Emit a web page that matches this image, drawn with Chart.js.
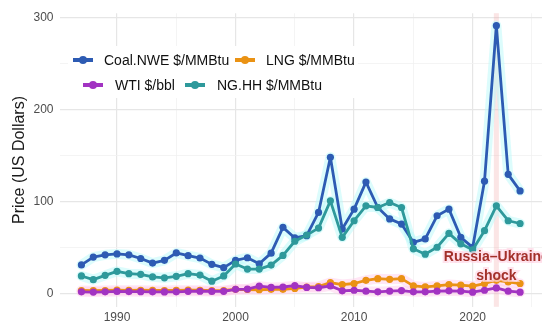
<!DOCTYPE html>
<html>
<head>
<meta charset="utf-8">
<script src="https://cdn.jsdelivr.net/npm/chart.js@4.4.0/dist/chart.umd.min.js"></script>
<style>
  html, body { margin: 0; padding: 0; background: #fff; }
</style>
</head>
<body>
<canvas id="chart" width="550" height="331"></canvas>
<script>
const years = [1987, 1988, 1989, 1990, 1991, 1992, 1993, 1994, 1995, 1996,
  1997, 1998, 1999, 2000, 2001, 2002, 2003, 2004, 2005, 2006,
  2007, 2008, 2009, 2010, 2011, 2012, 2013, 2014, 2015, 2016,
  2017, 2018, 2019, 2020, 2021, 2022, 2023, 2024];

const coal = [31, 39.5, 42, 43, 42, 38, 33, 36, 44, 41,
  38.5, 31.6, 28, 36, 38.8, 32.3, 43.8, 71.8, 60.3, 62.8,
  88, 148, 70, 91.6, 121, 93.4, 81, 75.4, 55.6, 59.3,
  84.4, 91.6, 61, 50, 122, 291, 129.4, 111.4];

const lng = [3.2, 3.0, 3.2, 3.6, 3.4, 3.5, 3.3, 3.2, 3.4, 3.6,
  3.5, 3.0, 3.2, 4.5, 4.3, 4.0, 4.5, 4.5, 5.5, 7.0,
  7.5, 11.8, 9.7, 10.8, 14.3, 16.1, 15.4, 16.1, 8.2, 7.1,
  8.2, 9.7, 9.0, 7.9, 10.8, 14.3, 12.5, 10.8];

const wti = [1.8, 1.5, 1.8, 2.2, 2.0, 1.9, 1.8, 1.7, 1.8, 2.3,
  2.4, 2.2, 2.3, 4.5, 4.8, 8.0, 6.5, 7.0, 8.5, 6.5,
  6.2, 8.2, 2.9, 3.5, 2.5, 1.8, 2.5, 3.1, 1.8, 1.8,
  2.5, 2.9, 2.5, 1.4, 3.5, 6.0, 2.5, 1.4];

const nghh = [19, 15, 19.7, 24, 21.5, 20.8, 18, 17, 18.6, 21.5,
  20, 13.3, 19, 32, 26.5, 26.5, 30.8, 41.3, 56.7, 63.5,
  71, 100.6, 61, 79, 95.2, 93.4, 98.8, 93.4, 48.5, 42.7,
  50.2, 65.3, 53.9, 47.4, 68.2, 95.2, 79, 76];

const seriesNames = ['Coal.NWE $/MMBtu', 'LNG $/MMBtu', 'WTI $/bbl', 'NG.HH $/MMBtu'];
const seriesColors = ['#2d5bb3', '#ea9214', '#a233c2', '#2e999b'];
const haloColors = ['rgba(185,250,250,0.5)', 'rgba(255,205,235,0.5)',
  'rgba(255,205,235,0.5)', 'rgba(185,250,250,0.5)'];

const xGrid = [1990, 1995, 2000, 2005, 2010, 2015, 2020, 2025];
const xLabels = [1990, 2000, 2010, 2020];
const yGrid = [0, 50, 100, 150, 200, 250, 300];
const yLabels = [0, 100, 200, 300];

const shockYear = 2022;
const shockLines = ['Russia–Ukraine', 'shock'];
const shockLabelY = [39, 18.6];

const seriesData = [coal, lng, wti, nghh];

function points(values) {
  return years.map((yr, i) => ({ x: yr, y: values[i] }));
}

const datasets = [];
// soft halo under each line
seriesData.forEach((vals, i) => {
  datasets.push({
    data: points(vals),
    borderColor: haloColors[i],
    borderWidth: 10,
    borderJoinStyle: 'round',
    borderCapStyle: 'round',
    pointRadius: 0,
    fill: false,
    order: 20 + i
  });
});
seriesData.forEach((vals, i) => {
  datasets.push({
    label: seriesNames[i],
    data: points(vals),
    borderColor: seriesColors[i],
    backgroundColor: seriesColors[i],
    borderWidth: 2.8,
    borderJoinStyle: 'round',
    pointRadius: 3.6,
    pointBorderWidth: 0,
    fill: false,
    order: 10 - i
  });
});

const overlays = {
  id: 'overlays',
  beforeDatasetsDraw(chart) {
    const { ctx, chartArea, scales } = chart;
    const x = scales.x.getPixelForValue(shockYear);
    ctx.save();
    ctx.fillStyle = 'rgba(240,160,160,0.28)';
    ctx.fillRect(x - 2.5, chartArea.top, 5, chartArea.bottom - chartArea.top);
    ctx.restore();
  },
  afterDatasetsDraw(chart) {
    const { ctx, chartArea, scales } = chart;

    // annotation, clipped to the panel like the original
    ctx.save();
    ctx.beginPath();
    ctx.rect(chartArea.left, chartArea.top, chartArea.right - chartArea.left, chartArea.bottom - chartArea.top);
    ctx.clip();
    ctx.font = 'bold 14px Arial, "Liberation Sans", sans-serif';
    ctx.textAlign = 'center';
    ctx.textBaseline = 'middle';
    const ax = scales.x.getPixelForValue(shockYear);
    shockLines.forEach((t, i) => {
      const ay = scales.y.getPixelForValue(shockLabelY[i]);
      ctx.lineWidth = 4;
      ctx.strokeStyle = 'rgba(255,215,230,0.7)';
      ctx.strokeText(t, ax, ay);
      ctx.fillStyle = '#a3302a';
      ctx.fillText(t, ax, ay);
    });
    ctx.restore();

    // legend box
    ctx.save();
    ctx.fillStyle = '#ffffff';
    ctx.fillRect(68, 46, 290, 52);
    const keys = [
      { kx: 83, ky: 60, tx: 104 },
      { kx: 245, ky: 60, tx: 266 },
      { kx: 93, ky: 85, tx: 115 },
      { kx: 195, ky: 85, tx: 217 }
    ];
    ctx.font = '14px Arial, "Liberation Sans", sans-serif';
    ctx.textBaseline = 'middle';
    ctx.textAlign = 'left';
    keys.forEach((k, i) => {
      ctx.strokeStyle = seriesColors[i];
      ctx.lineWidth = 4;
      ctx.beginPath();
      ctx.moveTo(k.kx - 10, k.ky);
      ctx.lineTo(k.kx + 10, k.ky);
      ctx.stroke();
      ctx.fillStyle = seriesColors[i];
      ctx.beginPath();
      ctx.arc(k.kx, k.ky, 4, 0, Math.PI * 2);
      ctx.fill();
      ctx.fillStyle = '#111111';
      ctx.fillText(seriesNames[i], k.tx, k.ky + 1);
    });
    ctx.restore();
  }
};

new Chart(document.getElementById('chart'), {
  type: 'line',
  data: { datasets: datasets },
  options: {
    responsive: false,
    animation: false,
    devicePixelRatio: 1,
    layout: { padding: { top: 11, right: 8, left: 0, bottom: 0 } },
    plugins: {
      legend: { display: false },
      tooltip: { enabled: false }
    },
    scales: {
      x: {
        type: 'linear',
        min: 1985.15,
        max: 2025.85,
        afterBuildTicks: (s) => { s.ticks = xGrid.map(v => ({ value: v })); },
        afterFit: (s) => { s.height = 24.2; },
        border: { display: false },
        grid: {
          drawTicks: false,
          color: (c) => xLabels.includes(c.tick.value) ? '#e6e6e6' : '#f1f1f1',
          lineWidth: (c) => xLabels.includes(c.tick.value) ? 1.2 : 0.8
        },
        ticks: {
          autoSkip: false,
          maxRotation: 0,
          padding: 4,
          color: '#4d4d4d',
          font: { size: 12, family: 'Arial, "Liberation Sans", sans-serif' },
          callback: (v) => xLabels.includes(v) ? String(v) : ''
        }
      },
      y: {
        min: -14.5,
        max: 304.5,
        afterBuildTicks: (s) => { s.ticks = yGrid.map(v => ({ value: v })); },
        afterFit: (s) => { s.width = 59.5; },
        border: { display: false },
        grid: {
          drawTicks: false,
          color: (c) => yLabels.includes(c.tick.value) ? '#e6e6e6' : '#f1f1f1',
          lineWidth: (c) => yLabels.includes(c.tick.value) ? 1.2 : 0.8
        },
        ticks: {
          padding: 6,
          color: '#4d4d4d',
          font: { size: 12, family: 'Arial, "Liberation Sans", sans-serif' },
          callback: (v) => yLabels.includes(v) ? String(v) : ''
        },
        title: {
          display: true,
          text: 'Price (US Dollars)',
          color: '#1a1a1a',
          font: { size: 16, family: 'Arial, "Liberation Sans", sans-serif' },
          padding: { top: 9.5, bottom: 0 }
        }
      }
    }
  },
  plugins: [overlays]
});
</script>
</body>
</html>
